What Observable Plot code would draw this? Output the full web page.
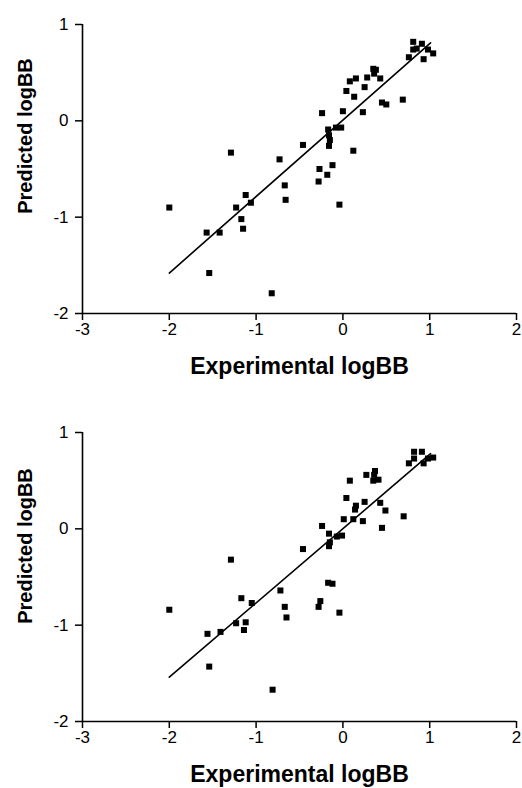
<!DOCTYPE html>
<html>
<head>
<meta charset="utf-8">
<script src="https://cdn.jsdelivr.net/npm/d3@7"></script>
<script src="https://cdn.jsdelivr.net/npm/@observablehq/plot@0.6"></script>
<style>
  html, body { margin: 0; padding: 0; background: #fff; }
  #chart svg { display: block; }
</style>
</head>
<body>
<div id="chart"></div>
<script>
// Axis ticks and labels
const xTicks = [-3, -2, -1, 0, 1, 2];
const yTicks = [-2, -1, 0, 1];
const xLabel = "Experimental logBB";
const yLabel = "Predicted logBB";

// Top panel: experimental vs predicted logBB
const topExp = [-2.00, -1.57, -1.42, -1.54, -1.29, -1.23, -1.12, -1.06, -1.17, -1.15,
  -0.82, -0.73, -0.67, -0.66, -0.46, -0.27, -0.28, -0.24, -0.18, -0.12,
  -0.17, -0.16, -0.15, -0.16, -0.08, -0.02, -0.04, 0.00, 0.04, 0.08,
  0.15, 0.13, 0.12, 0.23, 0.25, 0.28, 0.35, 0.38, 0.36, 0.43,
  0.45, 0.50, 0.69, 0.76, 0.81, 0.81, 0.91, 0.93, 0.98, 1.04, 0.85];
const topPred = [-0.90, -1.16, -1.16, -1.58, -0.33, -0.90, -0.77, -0.85, -1.02, -1.12,
  -1.79, -0.40, -0.67, -0.82, -0.25, -0.50, -0.63, 0.08, -0.56, -0.46,
  -0.09, -0.15, -0.20, -0.26, -0.07, -0.07, -0.87, 0.10, 0.31, 0.41,
  0.44, 0.25, -0.31, 0.09, 0.35, 0.45, 0.54, 0.53, 0.49, 0.44,
  0.19, 0.17, 0.22, 0.66, 0.82, 0.74, 0.80, 0.64, 0.74, 0.70, 0.75];
const topFitX = [-2.00, 1.01];
const topFitY = [-1.58, 0.81];

// Bottom panel
const botExp = [-2.00, -1.56, -1.41, -1.54, -1.29, -1.23, -1.17, -1.12, -1.14, -1.05,
  -0.81, -0.72, -0.67, -0.65, -0.46, -0.26, -0.28, -0.24, -0.17, -0.12,
  -0.16, -0.15, -0.16, -0.07, -0.01, -0.04, 0.01, 0.04, 0.08, 0.12,
  0.14, 0.15, 0.23, 0.25, 0.27, 0.35, 0.37, 0.36, 0.41, 0.43,
  0.49, 0.45, 0.70, 0.76, 0.82, 0.82, 0.91, 0.93, 0.98, 1.04];
const botPred = [-0.84, -1.09, -1.07, -1.43, -0.32, -0.98, -0.72, -0.97, -1.05, -0.77,
  -1.67, -0.64, -0.81, -0.92, -0.21, -0.75, -0.81, 0.03, -0.56, -0.57,
  -0.05, -0.14, -0.18, -0.08, -0.07, -0.87, 0.10, 0.32, 0.50, 0.10,
  0.20, 0.24, 0.08, 0.28, 0.56, 0.50, 0.60, 0.56, 0.51, 0.27,
  0.19, 0.01, 0.13, 0.68, 0.80, 0.73, 0.80, 0.68, 0.73, 0.74];
const botFitX = [-2.00, 1.01];
const botFitY = [-1.54, 0.78];

const font = "'Liberation Sans', Arial, Helvetica, sans-serif";
const fmt = d => String(d);

function panel({exp, pred, fitX, fitY, height, marginTop, marginBottom, yLabelDy}) {
  const pts = exp.map((x, i) => ({x, y: pred[i]}));
  const fit = fitX.map((x, i) => ({x, y: fitY[i]}));
  return Plot.plot({
    width: 522,
    height,
    marginTop,
    marginBottom,
    marginLeft: 82,
    marginRight: 6,
    style: {fontFamily: font, fontSize: "17px", color: "#000", background: "#fff", overflow: "visible"},
    x: {domain: [-3, 2], label: null},
    y: {domain: [-2, 1], label: null},
    marks: [
      Plot.ruleY([-2], {stroke: "#000", strokeWidth: 1.6}),
      Plot.ruleX([-3], {stroke: "#000", strokeWidth: 1.6}),
      Plot.axisX({ticks: xTicks, tickFormat: fmt, tickSize: 7, tickPadding: 2, strokeWidth: 1.5, fontSize: 17, label: null}),
      Plot.axisY({ticks: yTicks, tickFormat: fmt, tickSize: 7, tickPadding: 7, strokeWidth: 1.5, fontSize: 17, label: null}),
      Plot.line(fit, {x: "x", y: "y", stroke: "#000", strokeWidth: 1.6}),
      Plot.dot(pts, {x: "x", y: "y", symbol: "square", r: 3.4, fill: "#000", stroke: "none"}),
      Plot.text([xLabel], {text: d => d, frameAnchor: "bottom", textAnchor: "middle", dy: 60, fontSize: 23, fontWeight: "bold"}),
      Plot.text([yLabel], {text: d => d, frameAnchor: "left", textAnchor: "middle", rotate: -90, dx: -57, dy: yLabelDy, fontSize: 20, fontWeight: "bold"})
    ]
  });
}

const chart = document.getElementById("chart");
chart.append(panel({exp: topExp, pred: topPred, fitX: topFitX, fitY: topFitY,
  height: 394, marginTop: 24, marginBottom: 81, yLabelDy: -33}));
chart.append(panel({exp: botExp, pred: botPred, fitX: botFitX, fitY: botFitY,
  height: 394, marginTop: 38, marginBottom: 67, yLabelDy: -31}));
</script>
</body>
</html>
